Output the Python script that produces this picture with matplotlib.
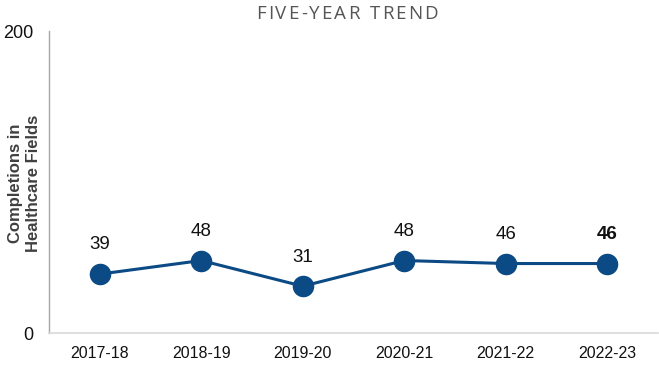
import matplotlib
matplotlib.use("Agg")
import matplotlib.pyplot as plt

years = ["2017-18", "2018-19", "2019-20", "2020-21", "2021-22", "2022-23"]
completions = [39, 48, 31, 48, 46, 46]
y_ticks = [0, 200]
title = "FIVE-YEAR TREND"

plt.rcParams['font.family'] = ['Liberation Sans', 'DejaVu Sans']

fig = plt.figure(figsize=(6.59, 3.82), dpi=100)
ax = fig.add_axes([49/659, 1 - 333/382, 1 - 49/659 - 1/659, (333 - 31)/382])

color = "#0b4a85"
x = list(range(len(years)))
ax.plot(x, completions, color=color, lw=2.2, marker="o", markersize=14.5, zorder=3)

for i, v in enumerate(completions):
    ax.annotate(str(v), (i, v), xytext=(0, 21), textcoords="offset points",
                ha="center", va="center", fontsize=13.5, color="#111111",
                fontweight="bold" if i == len(completions) - 1 else "normal")

ax.set_xlim(-0.5, len(years) - 0.5)
ax.set_ylim(0, 200)
ax.set_xticks(x)
ax.set_xticklabels(years, fontsize=11.5, color="#111111")
ax.set_yticks(y_ticks)
ax.set_yticklabels([str(t) for t in y_ticks], fontsize=13, color="#111111")
ax.tick_params(axis="both", length=0)
ax.tick_params(axis="x", pad=9)
ax.tick_params(axis="y", pad=11.5)

for s in ["top", "right"]:
    ax.spines[s].set_visible(False)
ax.spines["left"].set_color("#a6a6a6")
ax.spines["bottom"].set_color("#d9d9d9")
ax.spines["left"].set_linewidth(1)
ax.spines["bottom"].set_linewidth(1.2)

fig.text(25/659, 1 - 183/382, "Completions in\nHealthcare Fields", rotation=90,
         ha="center", va="center", fontsize=12, fontweight="bold",
         color="#404040", linespacing=1.25)

# Title with letter spacing (tracking) to span ~182 px
renderer = fig.canvas.get_renderer()
tkw = dict(fontsize=13.5, color="#555555", family=["Open Sans", "DejaVu Sans"], va="center", ha="left")
widths = []
for ch in title:
    t = fig.text(0, 0, ch if ch != " " else "-", **tkw)
    w = t.get_window_extent(renderer).width
    widths.append(w)
    t.remove()
target = 182
tracking = max(0.5, (target - sum(widths)) / (len(title) - 1))
total = sum(widths) + tracking * (len(title) - 1)
xpos = 347 - total / 2
for ch, w in zip(title, widths):
    if ch != " ":
        fig.text(xpos / 659, 1 - 14/382, ch, **tkw)
    xpos += w + tracking

fig.savefig("out.png", dpi=100)
